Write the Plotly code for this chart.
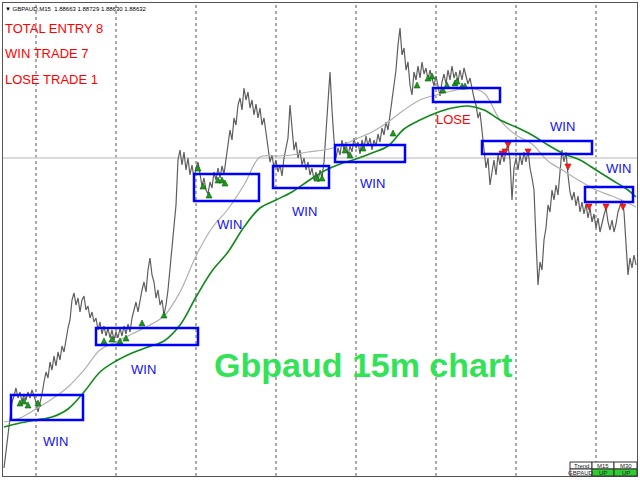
import plotly.graph_objects as go

# ---------------- data ----------------
BASE_PRICE = 1.8628          # price level of the "0" pip reference
PIP = 0.0001

# close prices of GBPAUD M15, in pips above BASE_PRICE, one per bar
CLOSE_PIPS = [
    32, 50, 68, 82, 98, 104, 112, 102, 108, 98, 106, 100, 108, 102, 110, 104, 98, 88, 96, 106, 118, 128,
    122, 138, 130, 144, 134, 148, 140, 154, 148, 162, 172, 180, 200, 207, 195, 202, 188, 200, 204, 190,
    194, 182, 188, 178, 182, 170, 178, 166, 174, 164, 172, 162, 170, 160, 168, 162, 172, 164, 174, 166,
    176, 168, 182, 190, 198, 188, 200, 210, 218, 208, 230, 242, 225, 218, 202, 210, 195, 200, 185, 195,
    210, 232, 250, 272, 295, 340, 350, 335, 348, 330, 342, 325, 335, 322, 332, 338,
    324, 314, 322, 310, 306, 318, 312, 328, 320, 332, 322, 334, 326, 340, 355, 370, 360, 382, 375, 395,
    402, 390, 412, 400, 408, 392, 400, 385, 396, 382, 392, 375, 382, 368, 350, 338, 345, 332,
    340, 328, 335, 324, 342, 352, 362, 395, 370, 350, 358, 342, 350, 335, 342, 330, 338, 325, 332, 320,
    328, 318, 330, 322, 338, 370, 405, 428, 390, 360, 342,
    352, 345, 360, 350, 358, 344, 354, 348, 362, 352, 358, 346, 360, 352, 364, 354, 362, 350, 360, 354,
    366, 358, 372, 365, 378, 370, 385, 400, 415, 430, 455, 472, 445, 452, 430, 438, 415, 405, 428, 420,
    434, 422, 438, 426, 432, 420, 430, 422, 414, 424, 412, 404, 418, 426, 416, 430, 420, 434, 422, 428,
    418, 430, 420, 432, 424, 416, 422,
    410, 402, 395, 382, 388, 370, 350, 332, 342, 315, 328, 340, 325, 345, 335, 348, 338, 350, 355, 340,
    300, 332, 342, 330, 345, 335, 348, 338, 350, 332, 322, 310, 260, 215, 238, 230, 260, 272, 295, 288,
    310, 300, 315, 305, 328, 350, 338, 348, 325, 308, 300, 308, 294, 304, 288, 298, 286, 296, 282, 292,
    278, 286, 272, 282, 268, 278, 285, 292, 278, 270, 280, 268, 276, 288, 295, 300, 288, 252, 225, 242,
    232, 245, 235,
]

# moving averages sampled every 8 bars (pips above BASE_PRICE)
MA_BARS = [0, 8, 16, 24, 32, 40, 48, 56, 64, 72, 80, 88, 96, 104, 112, 120, 128, 136, 144, 152,
           160, 168, 176, 184, 192, 200, 208, 216, 224, 232, 240, 248, 256, 264, 272, 280, 288, 296,
           304, 312, 316]
FAST_MA_PIPS = [78, 82, 91, 101, 113, 130, 150, 158, 166, 174, 184, 208, 244, 272, 291, 315, 343, 344,
                345, 348, 350, 354, 361, 368, 378, 390, 400, 405, 409, 412, 407, 380, 365, 356, 339, 329,
                319, 310, 304, 297, 293]
SLOW_MA_PIPS = [73, 77, 80, 83, 91, 108, 128, 139, 147, 153, 159, 175, 203, 229, 248, 273, 292, 300,
                308, 319, 329, 336, 341, 347, 354, 371, 380, 387, 392, 394, 390, 380, 373, 365, 355, 346,
                340, 330, 320, 310, 303]

SEPARATOR_BARS = [16, 56, 96, 136, 176, 216, 256, 296]
LEVEL_PIPS = 342

# trade boxes: start bar, end bar, top pips, bottom pips
BOX_START = [3.5, 46, 95, 134.5, 165.5, 214.5, 239, 290.5]
BOX_END = [39.5, 97, 127.5, 162.5, 200.5, 248, 294, 314.5]
BOX_TOP = [105, 172, 326, 334, 355, 412, 359, 313]
BOX_BOTTOM = [80, 155, 299, 312, 338, 398, 346, 298]

RESULT_TEXT = ["WIN", "WIN", "WIN", "WIN", "WIN", "LOSE", "WIN", "WIN"]
RESULT_BAR = [25.5, 69.5, 112.5, 150, 184, 224.5, 279, 307]
RESULT_PIPS = [59, 131, 276, 289, 317, 381, 374, 332]

BUY_BARS = [8, 10, 12, 17, 50, 54, 58, 61, 69, 80, 97, 99.5, 102.5, 107, 109, 110.5, 156.5, 159,
            170.5, 173, 179.5, 194.5, 206.5, 212, 214, 219.5, 221.5, 225.5, 226.5, 229, 230.5]
BUY_PIPS = [100, 102, 98, 100, 162, 164, 162, 165, 180, 188, 335, 317, 308, 323, 323, 320, 325, 325,
            353, 348, 355, 370, 418, 425, 427, 413, 418, 420, 422, 417, 417]
SELL_BARS = [249, 250.5, 252, 262, 282, 292.5, 301, 309.5]
SELL_PIPS = [343, 345, 352, 345, 330, 290, 290, 290]

STATS = ["TOTAL ENTRY 8", "WIN TRADE 7", "LOSE TRADE 1"]
HEADER = "\u25bc GBPAUD,M15  1.88663 1.88729 1.88630 1.88632"
TITLE = "Gbpaud 15m chart"
TABLE_ROWS = [["Trend", "M15", "M30"], ["GBPAUD", "UP", "UP"]]

FONT = "Liberation Sans, Arial, sans-serif"

# ---------------- figure ----------------
def to_price(p):
    return BASE_PRICE + p * PIP

bars = list(range(len(CLOSE_PIPS)))
fig = go.Figure()

fig.add_trace(go.Scatter(x=bars, y=[to_price(p) for p in CLOSE_PIPS], mode="lines",
                         line=dict(color="#5e5e5e", width=1.2), hoverinfo="skip"))
fig.add_trace(go.Scatter(x=MA_BARS, y=[to_price(p) for p in FAST_MA_PIPS], mode="lines",
                         line=dict(color="#b0b0b0", width=1.2, shape="spline"), hoverinfo="skip"))
fig.add_trace(go.Scatter(x=MA_BARS, y=[to_price(p) for p in SLOW_MA_PIPS], mode="lines",
                         line=dict(color="#0f8a1a", width=1.6, shape="spline"), hoverinfo="skip"))
fig.add_trace(go.Scatter(x=BUY_BARS, y=[to_price(p) for p in BUY_PIPS], mode="markers",
                         marker=dict(symbol="arrow-up", size=6, color="#1a9a1a",
                                     line=dict(color="#0a5a0a", width=0.6))))
fig.add_trace(go.Scatter(x=SELL_BARS, y=[to_price(p) for p in SELL_PIPS], mode="markers",
                         marker=dict(symbol="arrow-down", size=6, color="#ff1a1a",
                                     line=dict(color="#c00000", width=0.6))))

# period separators
for b in SEPARATOR_BARS:
    fig.add_shape(type="line", xref="x", yref="paper", x0=b, x1=b, y0=0, y1=1,
                  line=dict(color="#555555", width=1, dash="3px,3px"), layer="below")
# horizontal level
fig.add_shape(type="line", xref="paper", yref="y", x0=0, x1=1, y0=to_price(LEVEL_PIPS),
              y1=to_price(LEVEL_PIPS), line=dict(color="#cfcfcf", width=1.5), layer="below")

# trade boxes
for s, e, t, b in zip(BOX_START, BOX_END, BOX_TOP, BOX_BOTTOM):
    fig.add_shape(type="rect", xref="x", yref="y", x0=s, x1=e, y0=to_price(b), y1=to_price(t),
                  line=dict(color="#0000ff", width=2.5), fillcolor="rgba(0,0,0,0)")

for txt, b, p in zip(RESULT_TEXT, RESULT_BAR, RESULT_PIPS):
    fig.add_annotation(x=b, y=to_price(p), xref="x", yref="y", text=txt, showarrow=False,
                       font=dict(family=FONT, size=13,
                                 color="#ff0000" if txt == "LOSE" else "#1010ee"))

# stats text
for k, s in enumerate(STATS):
    fig.add_annotation(x=0.0, y=1 - (28 + 25.5 * k - 3) / 473, xref="paper", yref="paper",
                       text=s, showarrow=False, xanchor="left", yanchor="middle",
                       font=dict(family=FONT, size=13, color="#ff0000"))
fig.add_annotation(x=0.0, y=1 - 6 / 473, xref="paper", yref="paper", text=HEADER, showarrow=False,
                   xanchor="left", yanchor="middle",
                   font=dict(family=FONT, size=6, color="#000000"))
fig.add_annotation(x=(363 - 3) / 634, y=1 - (365 - 3) / 473, xref="paper", yref="paper", text=TITLE,
                   showarrow=False, xanchor="center", yanchor="middle",
                   font=dict(family=FONT, size=34, color="#33e357", weight="bold"))

# bottom-right info table
col_edges = [570, 592, 614, 637]
row_edges = [462, 469, 476]
for r, row in enumerate(TABLE_ROWS):
    for c, cell in enumerate(row):
        x0 = (col_edges[c] - 3) / 634
        x1 = (col_edges[c + 1] - 3) / 634
        y1 = 1 - (row_edges[r] - 3) / 473
        y0 = 1 - (row_edges[r + 1] - 3) / 473
        fill = "#2ecc2e" if (r == 1 and c > 0) else "#ffffff"
        fig.add_shape(type="rect", xref="paper", yref="paper", x0=x0, x1=x1, y0=y0, y1=y1,
                      line=dict(color="#333333", width=1), fillcolor=fill)
        fig.add_annotation(x=(x0 + x1) / 2, y=(y0 + y1) / 2, xref="paper", yref="paper", text=cell,
                           showarrow=False, xanchor="center", yanchor="middle", borderpad=0,
                           font=dict(family=FONT, size=6, color="#222222"))

fig.update_layout(
    width=640, height=480,
    margin=dict(l=3, r=3, t=3, b=4),
    paper_bgcolor="#ffffff", plot_bgcolor="#ffffff",
    showlegend=False,
    xaxis=dict(range=[-0.5, 316.5], showgrid=False, zeroline=False, showticklabels=False,
               showline=True, mirror=True, linecolor="#555555", linewidth=1, ticks=""),
    yaxis=dict(range=[BASE_PRICE + 24 * PIP, BASE_PRICE + 497 * PIP], showgrid=False,
               zeroline=False, showticklabels=False, showline=True, mirror=True,
               linecolor="#555555", linewidth=1, ticks=""),
)

fig.write_html("out.html", config={"displayModeBar": False},
               post_script="document.body.style.margin='0';document.body.style.overflow='hidden';")
